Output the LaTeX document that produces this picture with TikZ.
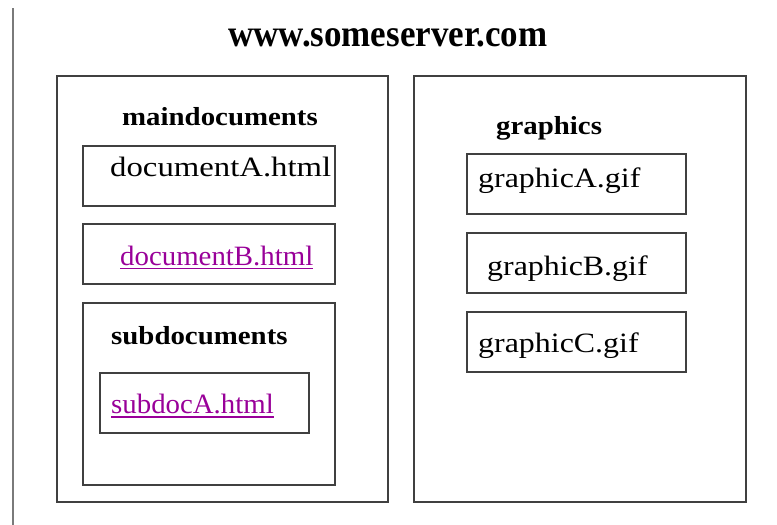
\documentclass[tikz,border=0pt]{standalone}
\usepackage{fontspec}
\setmainfont{Liberation Serif}
\newfontfamily\plainA[FakeStretch=1.17]{Liberation Serif}
\newfontfamily\plainG[FakeStretch=1.14]{Liberation Serif}
\newfontfamily\linkfont[FakeStretch=1.03]{Liberation Serif}
\newfontfamily\headfont[FakeStretch=1.11]{Liberation Serif}
\newfontfamily\titlefont[FakeStretch=0.92]{Liberation Serif}
\definecolor{linkpurple}{HTML}{990099}
\definecolor{boxline}{HTML}{404040}
\definecolor{sideline}{HTML}{7A7A7A}
\begin{document}
\begin{tikzpicture}[x=1pt,y=-1pt,
  box/.style={draw=boxline,line width=1.2pt,inner sep=0pt,fill=none},
  plaina/.style={anchor=base west,inner sep=0pt,font=\plainA\fontsize{28}{32}\selectfont},
  plaing/.style={anchor=base west,inner sep=0pt,font=\plainG\fontsize{28}{32}\selectfont},
  link/.style={anchor=base west,inner sep=0pt,text=linkpurple,font=\linkfont\fontsize{28}{32}\selectfont},
  head/.style={anchor=base west,inner sep=0pt,font=\headfont\fontsize{26}{30}\selectfont\bfseries},
  title/.style={anchor=base west,inner sep=0pt,font=\titlefont\fontsize{38}{42}\selectfont\bfseries},
  uline/.style={draw=linkpurple,line width=1.1pt}]
\useasboundingbox[fill=white] (0,0) rectangle (777,525);
% left side line
\coordinate (sideTop) at (13,8);
\coordinate (sideBot) at (13,525);
\draw[sideline,line width=2pt] (sideTop) -- (sideBot);
% title
\node[title] (ttl) at (228,46) {www.someserver.com};
% outer boxes
\node[box,minimum width=331pt,minimum height=426pt] (mainbox) at (222.5,289) {};
\node[box,minimum width=332pt,minimum height=426pt] (gfxbox) at (580,289) {};
% left column
\node[head] (mainlbl) at (122,125) {maindocuments};
\node[box,minimum width=252pt,minimum height=60pt] (docAbox) at (209,176) {};
\node[plaina] (docA) at (110,176) {documentA.html};
\node[box,minimum width=252pt,minimum height=60pt] (docBbox) at (209,254) {};
\node[link] (docB) at (120,265) {documentB.html};
\draw[uline] ([yshift=-3.5pt]docB.base west) -- ([yshift=-3.5pt]docB.base east);
\node[box,minimum width=252pt,minimum height=182pt] (subbox) at (209,394) {};
\node[head] (sublbl) at (111,344) {subdocuments};
\node[box,minimum width=209pt,minimum height=60pt] (subAbox) at (204.5,403) {};
\node[link] (subA) at (111,413) {subdocA.html};
\draw[uline] ([yshift=-4pt]subA.base west) -- ([yshift=-4pt]subA.base east);
% right column
\node[head] (gfxlbl) at (496,134) {graphics};
\node[box,minimum width=219pt,minimum height=60pt] (gAbox) at (576.5,184) {};
\node[plaing] (gA) at (478,187) {graphicA.gif};
\node[box,minimum width=219pt,minimum height=60pt] (gBbox) at (576.5,263) {};
\node[plaing] (gB) at (487,275) {graphicB.gif};
\node[box,minimum width=219pt,minimum height=60pt] (gCbox) at (576.5,342) {};
\node[plaing] (gC) at (478,352) {graphicC.gif};
\end{tikzpicture}
\end{document}
